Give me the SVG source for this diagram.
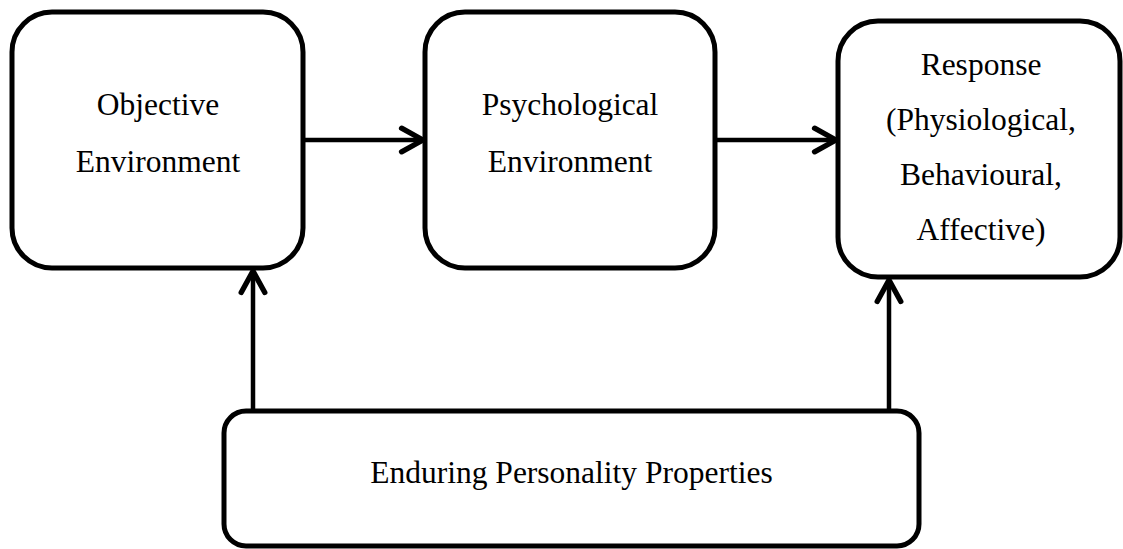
<svg xmlns="http://www.w3.org/2000/svg" width="1123" height="549" viewBox="0 0 1123 549">
<style>
.box{fill:#fff;stroke:#000;stroke-width:5}
.lbl{font-family:"Liberation Serif","Times New Roman",serif;font-size:31.5px;fill:#000;text-anchor:middle}
.con{stroke:#000;stroke-width:4.5;fill:none}
</style>
<defs>
<marker id="arr" markerUnits="userSpaceOnUse" markerWidth="30" markerHeight="30" viewBox="-24 -14 28 28" refX="0" refY="0" orient="auto">
<path d="M-20,-11 L0,0 L-20,11" fill="none" stroke="#000" stroke-width="5" stroke-linecap="round" stroke-linejoin="round"/>
</marker>
</defs>
<rect width="1123" height="549" fill="#fff"/>
<g id="connectors">
<line class="con" x1="303" y1="140" x2="423" y2="140" marker-end="url(#arr)"/>
<line class="con" x1="715" y1="140" x2="836" y2="140" marker-end="url(#arr)"/>
<line class="con" x1="253" y1="410" x2="253" y2="271" marker-end="url(#arr)"/>
<line class="con" x1="889" y1="410" x2="889" y2="280" marker-end="url(#arr)"/>
</g>
<g id="objective">
<rect class="box" x="12" y="12" width="291" height="256" rx="40"/>
<text class="lbl" x="158" y="115">Objective</text>
<text class="lbl" x="158" y="171.5">Environment</text>
</g>
<g id="psychological">
<rect class="box" x="425" y="12" width="290" height="256" rx="40"/>
<text class="lbl" x="570" y="115">Psychological</text>
<text class="lbl" x="570" y="171.5">Environment</text>
</g>
<g id="response">
<rect class="box" x="838" y="21" width="282" height="256" rx="40"/>
<text class="lbl" x="981" y="75">Response</text>
<text class="lbl" x="981" y="130">(Physiological,</text>
<text class="lbl" x="981" y="185">Behavioural,</text>
<text class="lbl" x="981" y="240">Affective)</text>
</g>
<g id="personality">
<rect class="box" x="224" y="411" width="695" height="135" rx="22"/>
<text class="lbl" x="571.5" y="483">Enduring Personality Properties</text>
</g>
</svg>
